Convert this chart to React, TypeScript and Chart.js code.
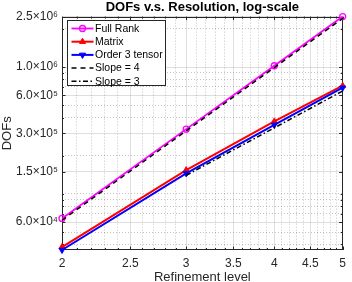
import React, { useEffect, useRef } from "react";
import { Chart, registerables } from "chart.js";
import { drawPoint } from "chart.js/helpers";

Chart.register(...registerables);

// ---- data ----
const levels = [2, 3, 4, 5];
const fullRank = [6.4e4, 3.24e5, 1.024e6, 2.5e6];
const matrixDofs = [3.81e4, 1.54e5, 3.73e5, 7.13e5];
const tensorDofs = [3.61e4, 1.45e5, 3.5e5, 6.87e5];
const slope4X = [2, 5];
const slope4Y = [6.2e4, 2.42e6];
const slope3X = [3, 5];
const slope3Y = [1.4e5, 6.48e5];

const seriesLabels = ["Full Rank", "Matrix", "Order 3 tensor", "Slope = 4", "Slope = 3"];

const xMajorTicks = [2, 2.5, 3, 3.5, 4, 4.5, 5];
const xTickLabels = ["2", "2.5", "3", "3.5", "4", "4.5", "5"];
const xMinorTicks = [
  2.1, 2.2, 2.3, 2.4, 2.6, 2.7, 2.8, 2.9, 3.1, 3.2, 3.3, 3.4, 3.6, 3.7, 3.8, 3.9,
  4.1, 4.2, 4.3, 4.4, 4.6, 4.7, 4.8, 4.9,
];
const yMajorTicks = [6e4, 1.5e5, 3e5, 6e5, 1e6, 2.5e6];
const yTickLabels = ["6.0×10⁴", "1.5×10⁵", "3.0×10⁵", "6.0×10⁵", "1.0×10⁶", "2.5×10⁶"];
const yMinorTicks = [4e4, 5e4, 7e4, 8e4, 9e4, 1e5, 2e5, 4e5, 5e5, 7e5, 8e5, 9e5, 2e6];
const xMin = 2;
const xMax = 5;
const yMin = 3.61e4;
const yMax = 2.5e6;

const AX = "#262626";
const FONT = '"Liberation Sans", Arial, Helvetica, sans-serif';
const MAJOR_GRID = "rgba(38,38,38,0.15)";
const MINOR_GRID = "rgba(38,38,38,0.28)";

const pts = (xs: number[], ys: number[]) => xs.map((x, i) => ({ x, y: ys[i] }));

const isMajor = (list: number[], v: number) => list.some((m) => Math.abs(m - v) < 1e-9 * Math.max(1, m));

const axesBoxPlugin = {
  id: "axesBox",
  beforeDatasetsDraw(chart: any) {
    const { ctx, chartArea: a, scales } = chart;
    ctx.save();
    ctx.strokeStyle = AX;
    ctx.lineWidth = 1;
    ctx.setLineDash([]);
    ctx.strokeRect(Math.round(a.left) + 0.5, Math.round(a.top) + 0.5, Math.round(a.right - a.left) - 1, Math.round(a.bottom - a.top) - 1);
    ctx.beginPath();
    [...xMajorTicks, ...xMinorTicks].forEach((v) => {
      const len = isMajor(xMajorTicks, v) ? 3.5 : 2;
      const px = Math.round(scales.x.getPixelForValue(v)) + 0.5;
      ctx.moveTo(px, a.bottom);
      ctx.lineTo(px, a.bottom - len);
      ctx.moveTo(px, a.top);
      ctx.lineTo(px, a.top + len);
    });
    [...yMajorTicks, ...yMinorTicks].forEach((v) => {
      const len = isMajor(yMajorTicks, v) ? 3.5 : 2;
      const py = Math.round(scales.y.getPixelForValue(v)) + 0.5;
      ctx.moveTo(a.left, py);
      ctx.lineTo(a.left + len, py);
      ctx.moveTo(a.right, py);
      ctx.lineTo(a.right - len, py);
    });
    ctx.stroke();
    ctx.restore();
  },
};

const boxLegendPlugin = {
  id: "boxLegend",
  afterDraw(chart: any) {
    const { ctx, chartArea: a } = chart;
    const x0 = Math.round(a.left) + 5.5;
    const y0 = Math.round(a.top) + 3.5;
    const w = 98;
    const h = 65;
    ctx.save();
    ctx.fillStyle = "#ffffff";
    ctx.fillRect(x0, y0, w, h);
    ctx.strokeStyle = AX;
    ctx.lineWidth = 1;
    ctx.setLineDash([]);
    ctx.strokeRect(x0, y0, w, h);
    const rowH = 13.2;
    chart.data.datasets.forEach((ds: any, i: number) => {
      const cy = y0 + 8 + i * rowH;
      ctx.save();
      ctx.strokeStyle = ds.borderColor;
      ctx.lineWidth = ds.borderWidth;
      ctx.setLineDash(ds.borderDash || []);
      ctx.beginPath();
      ctx.moveTo(x0 + 4, cy);
      ctx.lineTo(x0 + 26, cy);
      ctx.stroke();
      ctx.setLineDash([]);
      if (ds.pointRadius > 0) {
        ctx.fillStyle = ds.pointBackgroundColor;
        ctx.strokeStyle = ds.borderColor;
        ctx.lineWidth = ds.pointBorderWidth;
        drawPoint(ctx, { pointStyle: ds.pointStyle, rotation: ds.pointRotation || 0, radius: ds.pointRadius, borderWidth: ds.pointBorderWidth }, x0 + 15, cy);
      }
      ctx.restore();
      ctx.fillStyle = "#000000";
      ctx.font = `10.5px ${FONT}`;
      ctx.textBaseline = "middle";
      ctx.textAlign = "left";
      ctx.fillText(ds.label, x0 + 27.5, cy + 0.5);
    });
    ctx.restore();
  },
};

export default function App() {
  const canvasRef = useRef<HTMLCanvasElement | null>(null);

  useEffect(() => {
    if (!canvasRef.current) return;
    const chart = new Chart(canvasRef.current, {
      type: "line",
      data: {
        datasets: [
          {
            label: seriesLabels[0],
            data: pts(levels, fullRank),
            borderColor: "#ff00ff",
            backgroundColor: "#ff00ff",
            borderWidth: 1.8,
            pointStyle: "circle",
            pointRadius: 3,
            pointBorderWidth: 1.3,
            pointBackgroundColor: "rgba(255,255,255,0)",
            pointBorderColor: "#ff00ff",
            clip: false,
            order: 5,
          },
          {
            label: seriesLabels[1],
            data: pts(levels, matrixDofs),
            borderColor: "#ff0000",
            backgroundColor: "#ff0000",
            borderWidth: 2,
            pointStyle: "triangle",
            pointRadius: 3.5,
            pointBorderWidth: 1,
            pointBackgroundColor: "#ff0000",
            pointBorderColor: "#ff0000",
            clip: false,
            order: 4,
          },
          {
            label: seriesLabels[2],
            data: pts(levels, tensorDofs),
            borderColor: "#0000ff",
            backgroundColor: "#0000ff",
            borderWidth: 2,
            pointStyle: "triangle",
            pointRotation: 180,
            pointRadius: 3.5,
            pointBorderWidth: 1,
            pointBackgroundColor: "#0000ff",
            pointBorderColor: "#0000ff",
            clip: false,
            order: 3,
          },
          {
            label: seriesLabels[3],
            data: pts(slope4X, slope4Y),
            borderColor: "#000000",
            backgroundColor: "#000000",
            borderWidth: 1.5,
            borderDash: [5, 4],
            pointRadius: 0,
            clip: false,
            order: 2,
          },
          {
            label: seriesLabels[4],
            data: pts(slope3X, slope3Y),
            borderColor: "#000000",
            backgroundColor: "#000000",
            borderWidth: 1.5,
            borderDash: [5, 2.5, 1.5, 2.5],
            pointRadius: 0,
            clip: false,
            order: 1,
          },
        ],
      },
      options: {
        responsive: false,
        animation: false,
        events: [],
        layout: { padding: { left: 0, right: 4, top: 0, bottom: 0 } },
        plugins: {
          legend: { display: false },
          tooltip: { enabled: false },
          title: {
            display: true,
            text: "DOFs v.s. Resolution, log-scale",
            fullSize: false,
            color: "#000000",
            font: { family: FONT, size: 13, weight: "bold" },
            padding: { top: 0, bottom: 1 },
          },
        },
        scales: {
          x: {
            type: "logarithmic",
            min: xMin,
            max: xMax,
            afterBuildTicks: (s: any) => {
              s.ticks = [...xMajorTicks, ...xMinorTicks].sort((p, q) => p - q).map((v) => ({ value: v }));
            },
            afterFit: (s: any) => {
              s.height = 32;
            },
            ticks: {
              autoSkip: false,
              maxRotation: 0,
              color: AX,
              padding: 6,
              font: { family: FONT, size: 12 },
              callback: (v: any) => {
                const i = xMajorTicks.findIndex((m) => Math.abs(m - Number(v)) < 1e-9);
                return i >= 0 ? xTickLabels[i] : "";
              },
            },
            grid: {
              drawTicks: false,
              lineWidth: 1,
              color: (c: any) => (c.tick && isMajor(xMajorTicks, c.tick.value) ? MAJOR_GRID : MINOR_GRID),
            },
            border: {
              display: false,
              dash: (c: any) => (c.tick && isMajor(xMajorTicks, c.tick.value) ? [] : [1, 2]),
            },
            title: {
              display: true,
              text: "Refinement level",
              color: AX,
              font: { family: FONT, size: 13 },
              padding: { top: 0, bottom: -3 },
            },
          },
          y: {
            type: "logarithmic",
            min: yMin,
            max: yMax,
            afterBuildTicks: (s: any) => {
              s.ticks = [...yMajorTicks, ...yMinorTicks].sort((p, q) => p - q).map((v) => ({ value: v }));
            },
            afterFit: (s: any) => {
              s.width = 62;
            },
            ticks: {
              autoSkip: false,
              color: AX,
              padding: 4,
              font: { family: FONT, size: 12 },
              callback: (v: any) => {
                const i = yMajorTicks.findIndex((m) => Math.abs(m - Number(v)) < 1e-6 * m);
                return i >= 0 ? yTickLabels[i] : "";
              },
            },
            grid: {
              drawTicks: false,
              lineWidth: 1,
              color: (c: any) => (c.tick && isMajor(yMajorTicks, c.tick.value) ? MAJOR_GRID : MINOR_GRID),
            },
            border: {
              display: false,
              dash: (c: any) => (c.tick && isMajor(yMajorTicks, c.tick.value) ? [] : [1, 2]),
            },
            title: {
              display: true,
              text: "DOFs",
              color: AX,
              font: { family: FONT, size: 13 },
              padding: { top: 0, bottom: 0 },
            },
          },
        },
      } as any,
      plugins: [axesBoxPlugin, boxLegendPlugin],
    });
    return () => chart.destroy();
  }, []);

  return (
    <div style={{ position: "fixed", left: 0, top: 0, width: 352, height: 282, background: "#ffffff" }}>
      <canvas ref={canvasRef} width={352} height={282} style={{ display: "block" }} />
    </div>
  );
}
